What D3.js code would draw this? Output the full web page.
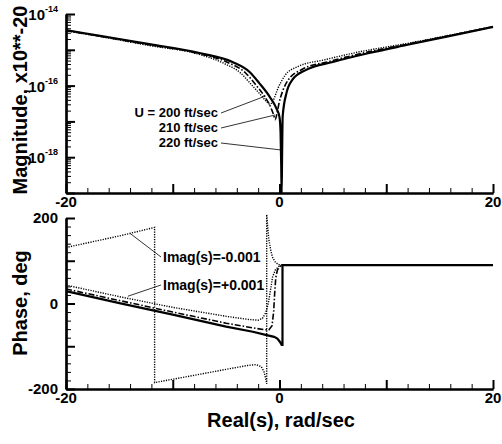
<!DOCTYPE html>
<html><head><meta charset="utf-8">
<script src="https://cdn.jsdelivr.net/npm/d3@7"></script>
<style>
body{margin:0;background:#fff}
svg{display:block}
text{font-family:"Liberation Sans",Arial,Helvetica,sans-serif;font-weight:bold;fill:#000}
</style>
</head><body>
<svg id="chart" width="502" height="444"></svg>
<script>
// ---------- DATA ----------
// Magnitude curves: Real(s) and log10(magnitude)
const magS_U220 = [-20,-16.8,-12.2,-7.5,-4.4,-2.8,-1.9,-0.9,-0.3,0,0.1,0.16,0.2,0.24,0.3,0.65,1.2,2.5,5,8.4,12,16,20];
const magE_U220 = [-14.45,-14.61,-14.84,-15.09,-15.34,-15.62,-15.93,-16.32,-16.63,-16.88,-17.3,-18.2,-19,-18.0,-16.85,-16.21,-15.84,-15.56,-15.34,-15.09,-14.86,-14.61,-14.36];
const magS_U210 = [-20,-16.8,-12.2,-7.5,-4.8,-3.2,-2.3,-1.3,-0.8,-0.55,-0.4,-0.25,-0.05,0.3,0.8,2.1,4.6,8,12,16,20];
const magE_U210 = [-14.46,-14.62,-14.86,-15.11,-15.36,-15.64,-15.95,-16.35,-16.62,-16.82,-16.95,-16.8,-16.5,-16.15,-15.85,-15.55,-15.33,-15.08,-14.84,-14.6,-14.36];
const magS_U200 = [-20,-16.8,-12.2,-7.5,-5.2,-3.6,-2.7,-1.7,-1.2,-0.9,-0.65,-0.4,-0.15,0.15,0.5,1.7,4.2,7.6,12,16,20];
const magE_U200 = [-14.47,-14.63,-14.88,-15.13,-15.38,-15.66,-15.95,-16.28,-16.45,-16.52,-16.45,-16.28,-16.08,-15.9,-15.72,-15.47,-15.28,-15.05,-14.82,-14.59,-14.35];

// Phase curves (deg)
const phS_solid = [-20,-15,-10,-5,-2.5,-1.2,-0.5,-0.2,0.05,0.2,0.28,0.28,20];
const phD_solid = [29,1,-26,-54,-66,-74,-78,-82,-90,-97,-97,90,90];
const phS_dashdot = [-20,-15,-10,-5,-2.5,-1.5,-1.0,-0.7,-0.55,-0.45,-0.35,-0.2,0,0.25];
const phD_dashdot = [34,7,-20,-46,-57,-61,-62,-52,-20,25,60,78,86,90];
const phS_plus = [-20,-15,-10,-5,-3,-2,-1.6,-1.3,-1.05,-0.85,-0.65,-0.4,-0.1,0.2];
const phD_plus = [43,16,-9,-30,-37,-39,-35,-22,0,30,62,78,86,90];
const phS_minus = [-20,-15,-11.7,-11.7,-8,-5,-3,-2.2,-1.7,-1.45,-1.3,-1.2,-1.2,-1.1,-1.0,-0.8,-0.65,-0.4,-0.1,0.2];
const phD_minus = [131,158,178,-185,-168,-154,-145,-143,-148,-160,-175,-188,208,178,150,122,108,97,91,90];

// Tick values / labels
const xMajorTicks = [-20,-10,0,10,20];
const xLabelTicks = [-20,0,20];
const magMajorExp = [-19,-18,-17,-16,-15,-14];
const magLabelExp = [-18,-16,-14];
const phMajorTicks = [-200,-100,0,100,200];
const phLabelTicks = [-200,0,200];

const magLabels = ["U = 200 ft/sec","210 ft/sec","220 ft/sec"];
const magLabelTargets = [[-1.3,-16.29],[-0.4,-16.82],[0.2,-17.8]];
const phLabels = ["Imag(s)=-0.001","Imag(s)=+0.001"];
const phLabelTargets = [[-14,164],[-14.2,17]];

// ---------- DRAW ----------
const svg = d3.select("#chart");
const x = d3.scaleLinear().domain([-20,20]).range([66,493]);
const yM = d3.scaleLog().domain([1e-19,1e-14]).range([193,14]);
const yP = d3.scaleLinear().domain([-200,200]).range([389,218]);

const xMinor = d3.range(-20,20.01,2).filter(v=>xMajorTicks.indexOf(v)<0);
const magMinor = [];
magMajorExp.slice(0,-1).forEach(e=>{for(let k=2;k<=9;k++) magMinor.push(k*Math.pow(10,e));});
const phMinor = d3.range(-200,200.01,20).filter(v=>phMajorTicks.indexOf(v)<0);

function styleAxis(g,w){
  g.select(".domain").attr("stroke","#000").attr("stroke-width",2.2);
  g.selectAll(".tick line").attr("stroke","#000").attr("stroke-width",w);
  g.selectAll(".tick text").remove();
}
function xAxes(yPos){
  svg.append("g").attr("transform",`translate(0,${yPos})`)
    .call(d3.axisBottom(x).tickValues(xMinor).tickSize(-5).tickSizeOuter(0)).call(g=>styleAxis(g,1));
  svg.append("g").attr("transform",`translate(0,${yPos})`)
    .call(d3.axisBottom(x).tickValues(xMajorTicks).tickSize(-9).tickSizeOuter(0)).call(g=>styleAxis(g,2));
  svg.append("g").selectAll("text").data(xLabelTicks).join("text")
    .attr("x",d=>x(d)).attr("y",yPos+14).attr("text-anchor","middle")
    .style("font-size","15px").text(d=>d);
}
xAxes(193);
xAxes(389);

// magnitude y axis
svg.append("g").attr("transform","translate(66,0)")
  .call(d3.axisLeft(yM).tickValues(magMinor).tickSize(-5).tickSizeOuter(0)).call(g=>styleAxis(g,1));
svg.append("g").attr("transform","translate(66,0)")
  .call(d3.axisLeft(yM).tickValues(magMajorExp.map(e=>Math.pow(10,e))).tickSize(-9).tickSizeOuter(0)).call(g=>styleAxis(g,2));
const ml = svg.append("g").selectAll("text").data(magLabelExp).join("text")
  .attr("x",58).attr("y",d=>yM(Math.pow(10,d))+6).attr("text-anchor","end");
ml.append("tspan").style("font-size","15px").text("10");
ml.append("tspan").style("font-size","9px").attr("dy",-8).text(d=>d);

// phase y axis
svg.append("g").attr("transform","translate(66,0)")
  .call(d3.axisLeft(yP).tickValues(phMinor).tickSize(-5).tickSizeOuter(0)).call(g=>styleAxis(g,1));
svg.append("g").attr("transform","translate(66,0)")
  .call(d3.axisLeft(yP).tickValues(phMajorTicks).tickSize(-9).tickSizeOuter(0)).call(g=>styleAxis(g,2));
svg.append("g").selectAll("text").data(phLabelTicks).join("text")
  .attr("x",58).attr("y",d=>yP(d)+5).attr("text-anchor","end")
  .style("font-size","15px").text(d=>d);

// axis titles
svg.append("text").attr("transform","translate(27,100) rotate(-90)").attr("text-anchor","middle")
  .style("font-size","20px").text("Magnitude, x10**-20");
svg.append("text").attr("transform","translate(27,303) rotate(-90)").attr("text-anchor","middle")
  .style("font-size","20px").text("Phase, deg");
svg.append("text").attr("x",281).attr("y",427).attr("text-anchor","middle")
  .style("font-size","20px").text("Real(s), rad/sec");

// curves
const styles = {
  solid:{w:2.2,dash:null},
  dashdot:{w:1.6,dash:"6,2,1.5,2"},
  dotted:{w:1.4,dash:"1.2,1.3"}
};
function drawCurve(S,V,yScale,st,conv,curve){
  const pts = S.map((s,i)=>[s,conv?Math.pow(10,V[i]):V[i]]);
  svg.append("path").datum(pts)
    .attr("d",d3.line().curve(curve||d3.curveLinear).x(d=>x(d[0])).y(d=>yScale(d[1])))
    .attr("fill","none").attr("stroke","#000")
    .attr("stroke-width",styles[st].w)
    .attr("stroke-dasharray",styles[st].dash);
}
drawCurve(magS_U200,magE_U200,yM,"dotted",true,d3.curveMonotoneX);
drawCurve(magS_U210,magE_U210,yM,"dashdot",true,d3.curveMonotoneX);
drawCurve(magS_U220,magE_U220,yM,"solid",true,d3.curveMonotoneX);

drawCurve(phS_minus,phD_minus,yP,"dotted",false);
drawCurve(phS_plus,phD_plus,yP,"dotted",false);
drawCurve(phS_dashdot,phD_dashdot,yP,"dashdot",false);
drawCurve(phS_solid,phD_solid,yP,"solid",false);

// annotations top
const magLabelY = [117,132,147];
magLabels.forEach((t,i)=>{
  svg.append("text").attr("x",218).attr("y",magLabelY[i]).attr("text-anchor","end")
    .style("font-size","13px").text(t);
  const tg = magLabelTargets[i];
  svg.append("line").attr("x1",221).attr("y1",magLabelY[i]-4)
    .attr("x2",x(tg[0])).attr("y2",yM(Math.pow(10,tg[1])))
    .attr("stroke","#000").attr("stroke-width",0.8);
});
// annotations bottom
const phLabelY = [262,290];
phLabels.forEach((t,i)=>{
  svg.append("text").attr("x",163).attr("y",phLabelY[i])
    .style("font-size","14px").text(t);
  const tg = phLabelTargets[i];
  svg.append("line").attr("x1",161).attr("y1",phLabelY[i]-5)
    .attr("x2",x(tg[0])).attr("y2",yP(tg[1]))
    .attr("stroke","#000").attr("stroke-width",0.8);
});
</script>
</body></html>
